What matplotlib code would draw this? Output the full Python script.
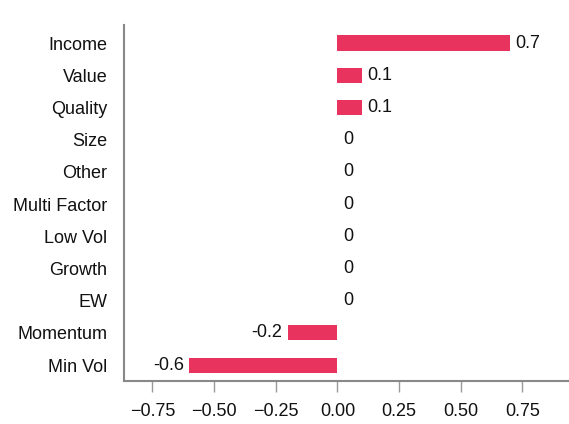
import matplotlib.pyplot as plt
import numpy as np

plt.rcParams['font.family'] = ['Liberation Sans', 'DejaVu Sans']

# factor exposures, bottom to top
factors = ['Min Vol', 'Momentum', 'EW', 'Growth', 'Low Vol', 'Multi Factor',
           'Other', 'Size', 'Quality', 'Value', 'Income']
values = [-0.6, -0.2, 0, 0, 0, 0, 0, 0, 0.1, 0.1, 0.7]
xticks = [-0.75, -0.5, -0.25, 0.0, 0.25, 0.5, 0.75]

fig = plt.figure(figsize=(5.69, 4.24), dpi=100)
ax = fig.add_axes([0.218, 0.101, 0.80, 0.84])

y = np.arange(len(factors))
bars = ax.barh(y, values, height=0.47, color='#e8335f')
ax.bar_label(bars, labels=['%g' % v for v in values], padding=4, fontsize=13, color='#111111')

ax.set_yticks(y)
ax.set_yticklabels(factors, fontsize=13, color='#111111')
ax.tick_params(axis='y', length=0, pad=12)
ax.set_xticks(xticks)
ax.set_xticklabels(['%.2f' % t if t >= 0 else '\u2212%.2f' % -t for t in xticks], fontsize=13, color='#111111')
ax.tick_params(axis='x', length=8, width=1, color='#999999', pad=8)

ax.set_xlim(-0.865, 0.98)
ax.set_ylim(-0.5, 10.56)

for s in ['top', 'right']:
    ax.spines[s].set_visible(False)
for s in ['left', 'bottom']:
    ax.spines[s].set_color('#888888')
    ax.spines[s].set_linewidth(1.5)

fig.savefig('out.png', dpi=100)
